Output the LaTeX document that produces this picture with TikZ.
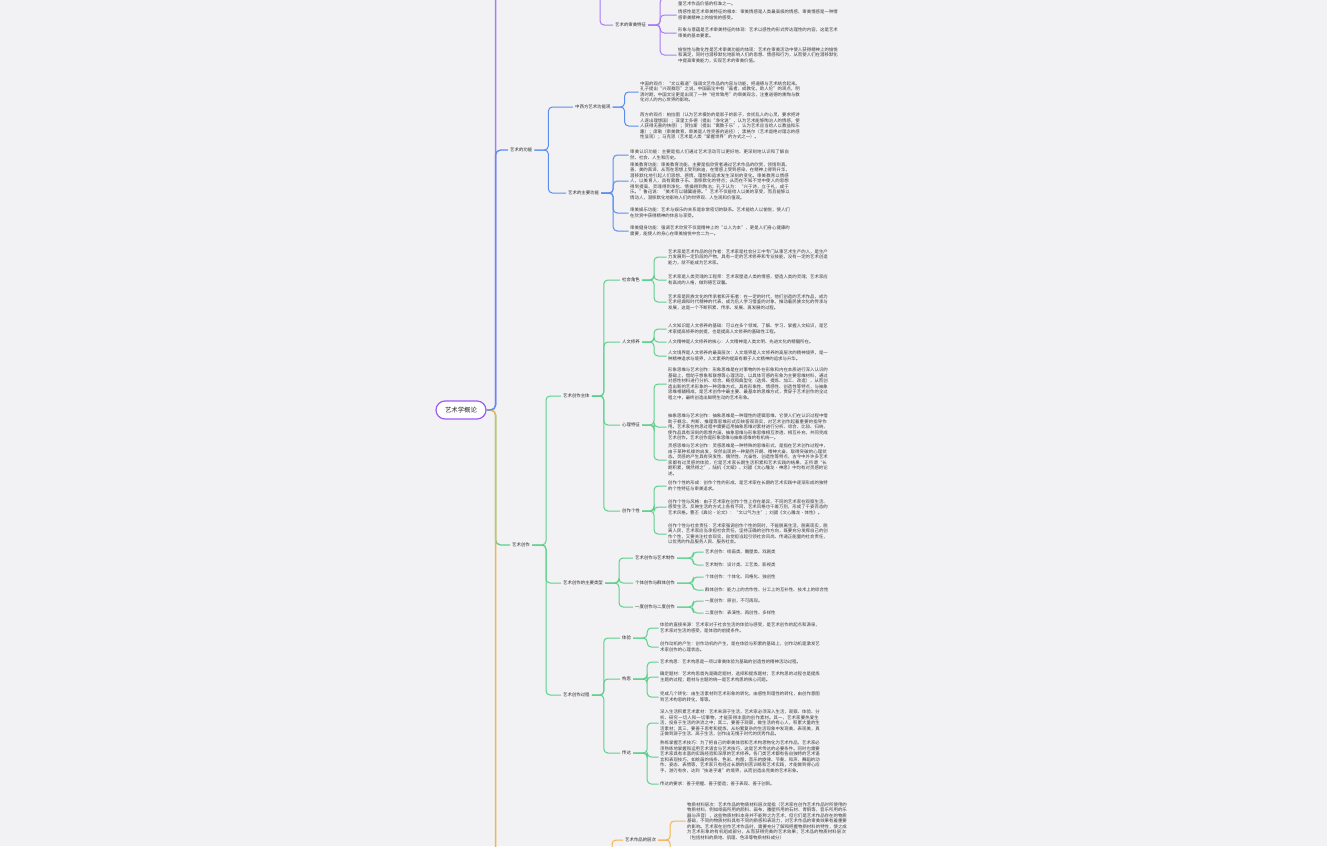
\documentclass[tikz,border=0pt]{standalone}
\usepackage{fontspec}
\setmainfont{Noto Sans CJK SC}
\XeTeXlinebreaklocale "zh"
\XeTeXlinebreakskip=0pt plus 1pt
\definecolor{bgcol}{HTML}{F2F2F5}
\definecolor{rootline}{HTML}{9D5CF5}
\definecolor{purpline}{HTML}{A97BF5}
\definecolor{blueline}{HTML}{5B8DEF}
\definecolor{greenline}{HTML}{5CCF8A}
\definecolor{orangeline}{HTML}{F4B350}
\definecolor{txt}{HTML}{2A2A2A}
\definecolor{leaftxt}{HTML}{3A3A3A}

\begin{document}
\begin{tikzpicture}[x=1pt,y=-1pt,
  rootbox/.style={draw=rootline,line width=1.2pt,fill=white,rounded corners=9pt,minimum width=50pt,minimum height=18pt,font=\fontsize{6.4}{7}\selectfont,text=txt},
  lbl/.style={anchor=west,inner sep=2pt,font=\fontsize{4.4}{5.5}\selectfont,text=txt},
  leaf/.style={anchor=west,inner sep=1.5pt,text width=160pt,align=left,font=\fontsize{4.4}{5.5}\selectfont,text=leaftxt},
  branch/.style={line width=1pt,rounded corners=4pt},
  spine/.style={line width=1.3pt,rounded corners=5pt}
]
\fill[bgcol] (0,0) rectangle (1327,846);
\useasboundingbox (0,0) rectangle (1327,846);

\node[rootbox] (root) at (461,410) {艺术学概论};

% purple
\coordinate (pTop) at (510,-30);
\coordinate (pBr) at (600,-30);
\node[lbl] (shenmei) at (613,25) {艺术的审美特征};
\node[leaf] (sm0) at (676.5,-2) {审美性是艺术的本质特征之一：艺术作品以其独特的审美形式给人以美的享受和精神上的满足，艺术的审美性是艺术与其他社会意识形态相区别的重要标志，也是衡量艺术作品价值的标准之一。};
\node[leaf] (sm1) at (676.5,15) {情感性是艺术审美特征的根本：审美情感是人类最高级的情感，审美情感是一种情感审美精神上的愉悦的感受。};
\node[leaf] (sm2) at (676.5,33) {形象与意蕴是艺术审美特征的体现：艺术以感性的形式传达理性的内容，这是艺术审美的基本要素。};
\node[leaf] (sm3) at (676.5,55) {愉悦性与教化性是艺术审美功能的体现：艺术在审美活动中使人获得精神上的愉悦和满足，同时也潜移默化地影响人们的思想、情感和行为，从而使人们在潜移默化中提高审美能力，实现艺术的审美价值。};

% blue
\node[lbl] (gongneng) at (508,150) {艺术的功能};
\node[lbl] (guan) at (573,107) {中西方艺术功能观};
\node[leaf] (gu1) at (638.5,92) {中国的观点：“文以载道”强调文艺作品的内容与功能，把道德与艺术结合起来。孔子提出“兴观群怨”之说，中国画论中有“画者，成教化，助人伦”的观点，明清时期，中国文论更是出现了一种“经世致用”的审美观念，注重道德的熏陶与教化对人的内心世界的影响。};
\node[leaf] (gu2) at (638.5,126) {西方的观点：柏拉图（认为艺术模仿的是影子的影子，会扰乱人的心灵，要求把诗人逐出理想国）；亚里士多德（提出“净化说”，认为艺术能够陶冶人的情感，使人获得无害的快感）；贺拉斯（提出“寓教于乐”，认为艺术应当给人以教益和乐趣）；席勒（审美教育，审美是人性完善的途径）；黑格尔（艺术是绝对理念的感性显现）；马克思（艺术是人类“掌握世界”的方式之一）。};
\node[lbl] (zhuyao) at (566,193) {艺术的主要功能};
\node[leaf] (zy1) at (628.5,155) {审美认识功能：主要是指人们通过艺术活动可以更好地、更深刻地认识和了解自然、社会、人生和历史。};
\node[leaf] (zy2) at (628.5,181) {审美教育功能：审美教育功能，主要是指欣赏者通过艺术作品的欣赏，领悟到真、善、美的真谛，从而在思想上受到启迪，在情感上受到感染，在精神上得到升华，潜移默化地引起人们思想、感情、理想和追求发生深刻的变化。审美教育以情感人，以美育人，具有寓教于乐、潜移默化的特点；从而在不知不觉中使人的思想得到提高、灵魂得到净化、情操得到陶冶；孔子认为：“兴于诗，立于礼，成于乐。”鲁迅说：“美术可以辅翼道德。”艺术不仅能给人以美的享受，而且能够以情动人，潜移默化地影响人们的世界观、人生观和价值观。};
\node[leaf] (zy3) at (628.5,213) {审美娱乐功能：艺术与娱乐的关系是非常密切的联系。艺术能给人以愉悦，使人们在欣赏中获得精神的休息与享受。};
\node[leaf] (zy4) at (628.5,231) {审美健身功能：强调艺术欣赏不仅是精神上的“以人为本”，更是人们身心健康的需要，能使人的身心在审美愉悦中合二为一。};

% green
\node[lbl] (chuangzuo) at (510,545) {艺术创作};
\node[lbl] (zhuti) at (561,396) {艺术创作主体};
\node[lbl] (juese) at (620,280) {社会角色};
\node[leaf] (js1) at (666.5,257) {艺术家是艺术作品的创作者：艺术家是社会分工中专门从事艺术生产的人，是生产力发展到一定阶段的产物，具有一定的艺术修养和专业技能，没有一定的艺术创造能力，就不能成为艺术家。};
\node[leaf] (js2) at (666.5,280) {艺术家是人类灵魂的工程师：艺术家塑造人类的情感，塑造人类的灵魂；艺术家应有高尚的人格，做到德艺双馨。};
\node[leaf] (js3) at (666.5,302) {艺术家是民族文化的传承者和开拓者：在一定的时代，他们创造的艺术作品，成为艺术经典和时代精神的代表，成为后人学习借鉴的对象，推动着民族文化的传承与发展，这是一个不断积累、传承、发展、再发展的过程。};
\node[lbl] (xiuyang) at (620,342) {人文修养};
\node[leaf] (xy1) at (666.5,329) {人文知识是人文修养的基础：可以在多个领域，了解、学习、掌握人文知识，是艺术家提高修养的前提，也是提高人文修养的基础性工程。};
\node[leaf] (xy2) at (666.5,342) {人文精神是人文修养的核心：人文精神是人类文明、先进文化的精髓所在。};
\node[leaf] (xy3) at (666.5,356) {人文境界是人文修养的最高层次：人文境界是人文修养的高层次的精神境界，是一种精神追求与境界，人文素养的提高有赖于人文精神的追求与升华。};
\node[lbl] (xinli) at (620,425) {心理特征};
\node[leaf] (xl1) at (666.5,384) {形象思维与艺术创作：形象思维是在对事物的外在形象和内在本质进行深入认识的基础上，借助于想象和联想等心理活动，以具体可感的形象为主要思维材料，通过对感性材料进行分析、综合、概括和典型化（选择、提炼、加工、改造），从而创造出新的艺术形象的一种思维方式，具有形象性、情感性、创造性等特点，与抽象思维相辅相成，是艺术创作中最主要、最基本的思维方式，贯穿于艺术创作的全过程之中，最终创造出鲜明生动的艺术形象。};
\node[leaf] (xl2) at (666.5,427) {抽象思维与艺术创作：抽象思维是一种理性的逻辑思维，它使人们在认识过程中借助于概念、判断、推理等思维形式反映客观现实，对艺术创作起着重要的指导作用。艺术家在构思过程中需要运用抽象思维对素材进行分析、综合、比较、归纳，使作品具有深刻的思想内涵，抽象思维与形象思维相互渗透、相互补充，共同完成艺术创作。艺术创作是形象思维与抽象思维的有机统一。};
\node[leaf] (xl3) at (666.5,460) {灵感思维与艺术创作：灵感思维是一种特殊的思维形式，是指在艺术创作过程中，由于某种机缘的启发，突然出现的一种豁然开朗、精神亢奋、取得突破的心理状态。灵感的产生具有突发性、偶然性、亢奋性、创造性等特点，古今中外许多艺术家都有过灵感的体验，它是艺术家长期生活积累和艺术实践的结果，正所谓“长期积累，偶然得之”，陆机《文赋》、刘勰《文心雕龙·神思》中均有对灵感的论述。};
\node[lbl] (gexing) at (620,511) {创作个性};
\node[leaf] (gx1) at (666.5,486) {创作个性的形成：创作个性的形成，是艺术家在长期的艺术实践中逐渐形成的独特的个性特征与审美追求。};
\node[leaf] (gx2) at (666.5,507) {创作个性与风格：由于艺术家在创作个性上存在差异，不同的艺术家在观察生活、感受生活、反映生活的方式上各有不同，艺术风格也千差万别，形成了千姿百态的艺术风格。曹丕《典论·论文》：“文以气为主”；刘勰《文心雕龙·体性》。};
\node[leaf] (gx3) at (666.5,534) {创作个性与社会责任：艺术家强调创作个性的同时，不能脱离生活，脱离现实，脱离人民，艺术家应当承担社会责任，坚持正确的创作方向，既要充分发挥自己的创作个性，又要关注社会现实，自觉担当起引领社会风尚、传递正能量的社会责任，以优秀的作品服务人民、服务社会。};

\node[lbl] (leixing) at (561,583) {艺术创作的主要类型};
\node[lbl] (zhizuo) at (633,558) {艺术创作与艺术制作};
\node[leaf] (lx1) at (703.5,552) {艺术创作：绘画类、雕塑类、戏剧类};
\node[leaf] (lx2) at (703.5,565) {艺术制作：设计类、工艺类、影视类};
\node[lbl] (qunti) at (633,583) {个体创作与群体创作};
\node[leaf] (lx3) at (703.5,577) {个体创作：个体化、风格化、独创性};
\node[leaf] (lx4) at (703.5,590) {群体创作：能力上的合作性、分工上的互补性、技术上的综合性};
\node[lbl] (erdu) at (633,607) {一度创作与二度创作};
\node[leaf] (lx5) at (703.5,601) {一度创作：原创，不可再现。};
\node[leaf] (lx6) at (703.5,613) {二度创作：表演性、再创性、多样性};

\node[lbl] (guocheng) at (561,695) {艺术创作过程};
\node[lbl] (tiyan) at (620,638) {体验};
\node[leaf] (ty1) at (658.5,628) {体验的直接来源：艺术家对于社会生活的体验与感受，是艺术创作的起点和源泉，艺术家对生活的感受，是体验的前提条件。};
\node[leaf] (ty2) at (658.5,647) {创作动机的产生：创作动机的产生，是在体验与积累的基础上，创作动机是激发艺术家创作的心理状态。};
\node[lbl] (gousi) at (620,679) {构思};
\node[leaf] (gs1) at (658.5,662) {艺术构思：艺术构思是一项以审美体验为基础的创造性的精神活动过程。};
\node[leaf] (gs2) at (658.5,677) {确定题材：艺术构思首先是确定题材，选择和提炼题材；艺术构思的过程也是提炼主题的过程；题材与主题的统一是艺术构思的核心问题。};
\node[leaf] (gs3) at (658.5,697) {完成几个转化：由生活素材到艺术形象的转化，由感性到理性的转化，由创作意图到艺术构思的转化，等等。};
\node[lbl] (chuanda) at (620,753) {传达};
\node[leaf] (cd1) at (658.5,723) {深入生活积累艺术素材：艺术来源于生活，艺术家必须深入生活，观察、体验、分析、研究一切人和一切事物，才能获得丰富的创作素材。其一，艺术家要热爱生活，投身于生活的洪流之中；其二，要善于观察，做生活的有心人，积累大量的生活素材；其三，要善于思考和提炼，从纷繁复杂的生活现象中发现美、表现美，真正做到源于生活、高于生活，创作出无愧于时代的优秀作品。};
\node[leaf] (cd2) at (658.5,757) {熟练掌握艺术技巧：为了把自己的审美体验和艺术构思物化为艺术作品，艺术家必须熟练地掌握和运用艺术语言与艺术技巧，这是艺术传达的必要条件。同时也需要艺术家具有丰富的实践经验和深厚的艺术修养。各门类艺术都有各自独特的艺术语言和表现技巧，如绘画的线条、色彩、构图，音乐的旋律、节奏、和声，舞蹈的动作、姿态、表情等，艺术家只有经过长期的刻苦训练和艺术实践，才能做到得心应手、游刃有余，达到“技进乎道”的境界，从而创造出完美的艺术形象。};
\node[leaf] (cd3) at (658.5,784) {传达的要求：善于把握、善于塑造；善于表现、善于创新。};

% orange
\coordinate (oBot) at (510,880);
\coordinate (oBr) at (612,880);
\coordinate (oNext) at (690,880);
\node[lbl] (cengci) at (623,840) {艺术作品的层次};
\node[leaf] (cc1) at (685.5,821) {物质材料层次：艺术作品的物质材料层次是指（艺术家在创作艺术作品时所使用的物质材料，例如绘画所用的颜料、画布，雕塑所用的石材、青铜等，音乐所用的乐器与声音），这些物质材料本身并不能称之为艺术，但它们是艺术作品存在的物质基础，不同的物质材料具有不同的质感和表现力，对艺术作品的审美效果有着重要的影响。艺术家在创作艺术作品时，需要充分了解和把握物质材料的特性，使之成为艺术形象的有机组成部分，从而获得完美的艺术效果；艺术品的物质材料层次（包括材料的质地、肌理、色泽等物质材料成分）};

% spine
\draw[spine,purpline] (root.east) -- ++(9,0) |- (pTop);
\draw[spine,greenline] (root.east) -- ++(9,0) |- (chuangzuo.west);
\draw[spine,orangeline] (root.east) -- ++(9,0) |- (oBot);
\draw[spine,blueline] (root.east) -- ++(9,0) |- (gongneng.west);

\draw[branch,purpline] (pBr) |- (shenmei.west);
\draw[branch,purpline] (shenmei.east) -- ++(12,0) |- (sm0.west);
\draw[branch,purpline] (shenmei.east) -- ++(12,0) |- (sm1.west);
\draw[branch,purpline] (shenmei.east) -- ++(12,0) |- (sm2.west);
\draw[branch,purpline] (shenmei.east) -- ++(12,0) |- (sm3.west);

\draw[branch,blueline] (gongneng.east) -- ++(14,0) |- (guan.west);
\draw[branch,blueline] (gongneng.east) -- ++(14,0) |- (zhuyao.west);
\draw[branch,blueline] (guan.east) -- ++(12,0) |- (gu1.west);
\draw[branch,blueline] (guan.east) -- ++(12,0) |- (gu2.west);
\draw[branch,blueline] (zhuyao.east) -- ++(12,0) |- (zy1.west);
\draw[branch,blueline] (zhuyao.east) -- ++(12,0) |- (zy2.west);
\draw[branch,blueline] (zhuyao.east) -- ++(12,0) |- (zy3.west);
\draw[branch,blueline] (zhuyao.east) -- ++(12,0) |- (zy4.west);

\draw[branch,greenline] (chuangzuo.east) -- ++(14,0) |- (zhuti.west);
\draw[branch,greenline] (chuangzuo.east) -- ++(14,0) |- (leixing.west);
\draw[branch,greenline] (chuangzuo.east) -- ++(14,0) |- (guocheng.west);
\draw[branch,greenline] (zhuti.east) -- ++(12,0) |- (juese.west);
\draw[branch,greenline] (zhuti.east) -- ++(12,0) |- (xiuyang.west);
\draw[branch,greenline] (zhuti.east) -- ++(12,0) |- (xinli.west);
\draw[branch,greenline] (zhuti.east) -- ++(12,0) |- (gexing.west);
\draw[branch,greenline] (juese.east) -- ++(12,0) |- (js1.west);
\draw[branch,greenline] (juese.east) -- ++(12,0) |- (js2.west);
\draw[branch,greenline] (juese.east) -- ++(12,0) |- (js3.west);
\draw[branch,greenline] (xiuyang.east) -- ++(12,0) |- (xy1.west);
\draw[branch,greenline] (xiuyang.east) -- ++(12,0) |- (xy2.west);
\draw[branch,greenline] (xiuyang.east) -- ++(12,0) |- (xy3.west);
\draw[branch,greenline] (xinli.east) -- ++(12,0) |- (xl1.west);
\draw[branch,greenline] (xinli.east) -- ++(12,0) |- (xl2.west);
\draw[branch,greenline] (xinli.east) -- ++(12,0) |- (xl3.west);
\draw[branch,greenline] (gexing.east) -- ++(12,0) |- (gx1.west);
\draw[branch,greenline] (gexing.east) -- ++(12,0) |- (gx2.west);
\draw[branch,greenline] (gexing.east) -- ++(12,0) |- (gx3.west);
\draw[branch,greenline] (leixing.east) -- ++(14,0) |- (zhizuo.west);
\draw[branch,greenline] (leixing.east) -- ++(14,0) |- (qunti.west);
\draw[branch,greenline] (leixing.east) -- ++(14,0) |- (erdu.west);
\draw[branch,greenline] (zhizuo.east) -- ++(16,0) |- (lx1.west);
\draw[branch,greenline] (zhizuo.east) -- ++(16,0) |- (lx2.west);
\draw[branch,greenline] (qunti.east) -- ++(16,0) |- (lx3.west);
\draw[branch,greenline] (qunti.east) -- ++(16,0) |- (lx4.west);
\draw[branch,greenline] (erdu.east) -- ++(16,0) |- (lx5.west);
\draw[branch,greenline] (erdu.east) -- ++(16,0) |- (lx6.west);
\draw[branch,greenline] (guocheng.east) -- ++(12,0) |- (tiyan.west);
\draw[branch,greenline] (guocheng.east) -- ++(12,0) |- (gousi.west);
\draw[branch,greenline] (guocheng.east) -- ++(12,0) |- (chuanda.west);
\draw[branch,greenline] (tiyan.east) -- ++(14,0) |- (ty1.west);
\draw[branch,greenline] (tiyan.east) -- ++(14,0) |- (ty2.west);
\draw[branch,greenline] (gousi.east) -- ++(14,0) |- (gs1.west);
\draw[branch,greenline] (gousi.east) -- ++(14,0) |- (gs2.west);
\draw[branch,greenline] (gousi.east) -- ++(14,0) |- (gs3.west);
\draw[branch,greenline] (chuanda.east) -- ++(14,0) |- (cd1.west);
\draw[branch,greenline] (chuanda.east) -- ++(14,0) |- (cd2.west);
\draw[branch,greenline] (chuanda.east) -- ++(14,0) |- (cd3.west);

\draw[branch,orangeline] (oBr) |- (cengci.west);
\draw[branch,orangeline] (cengci.east) -- ++(12,0) |- (cc1.west);
\draw[branch,orangeline] (cengci.east) -- ++(12,0) |- (oNext);
\end{tikzpicture}
\end{document}
